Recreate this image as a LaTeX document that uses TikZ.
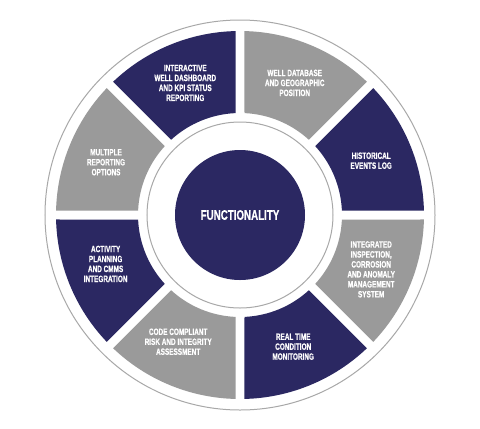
\documentclass[tikz,border=0pt]{standalone}
\usepackage{fontspec}
\usepackage{tikz}
\newfontfamily\condfont[FakeStretch=0.7, FakeBold=0.6]{Liberation Sans Bold}
\definecolor{navyseg}{HTML}{2B2862}
\definecolor{grayseg}{HTML}{9A9A9A}
\definecolor{ringline}{HTML}{A8A8A8}

\begin{document}
\begin{tikzpicture}[
  x=1bp, y=1bp,
  ring/.style={draw=ringline, line width=1bp},
  seglabel/.style={text=white, align=center, inner sep=0pt, font=\condfont\fontsize{9.2}{10}\selectfont},
  hub/.style={circle, fill=navyseg, minimum size=130bp, inner sep=0pt, text=white, font=\condfont\fontsize{14}{16}\selectfont}
]
  \fill[white] (-240,-213) rectangle (240,215);
  \useasboundingbox (-240,-213) rectangle (240,215);

  % outer and inner thin rings
  \draw[ring] (0,0) circle[radius=195];
  \draw[ring] (0,0) circle[radius=93];

  % eight segments, gaps of constant width
  \def\ri{102}
  \def\ro{184}
  \def\g{4.5}
  \foreach \a/\c in {45/grayseg, 0/navyseg, -45/grayseg, -90/navyseg,
                     -135/grayseg, 180/navyseg, 135/grayseg, 90/navyseg} {
    \fill[\c] ({\a+asin(\g/\ri)}:\ri) -- ({\a+asin(\g/\ro)}:\ro)
      arc[start angle={\a+asin(\g/\ro)}, end angle={\a+45-asin(\g/\ro)}, radius=\ro]
      -- ({\a+45-asin(\g/\ri)}:\ri)
      arc[start angle={\a+45-asin(\g/\ri)}, end angle={\a+asin(\g/\ri)}, radius=\ri]
      -- cycle;
  }

  \node[hub] (func) at (0,0) {FUNCTIONALITY};

  \node[seglabel] (welldb) at (67.5:143) {WELL DATABASE\\AND GEOGRAPHIC\\POSITION};
  \node[seglabel] (history) at (22.5:142) {HISTORICAL\\EVENTS LOG};
  \node[seglabel] (inspect) at (-22.5:142) {INTEGRATED\\INSPECTION,\\CORROSION\\AND ANOMALY\\MANAGEMENT\\SYSTEM};
  \node[seglabel] (realtime) at (-68:142) {REAL TIME\\CONDITION\\MONITORING};
  \node[seglabel] (codecomp) at (-116:141) {CODE COMPLIANT\\RISK AND INTEGRITY\\ASSESSMENT};
  \node[seglabel] (activity) at (-160:143) {ACTIVITY\\PLANNING\\AND CMMS\\INTEGRATION};
  \node[seglabel] (reporting) at (158.5:144) {MULTIPLE\\REPORTING\\OPTIONS};
  \node[seglabel] (dashboard) at (112.5:143) {INTERACTIVE\\WELL DASHBOARD\\AND KPI STATUS\\REPORTING};
\end{tikzpicture}
\end{document}
